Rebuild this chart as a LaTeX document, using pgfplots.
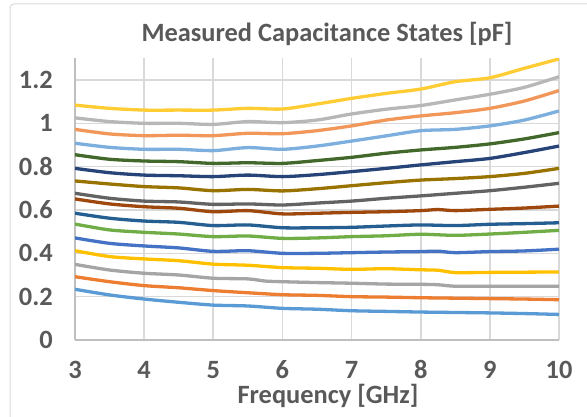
\documentclass[border=0pt]{standalone}
\usepackage{fontspec}
\setmainfont{Carlito}
\usepackage{pgfplots}
\pgfplotsset{compat=1.18}

\definecolor{txt}{HTML}{595959}
\definecolor{gridc}{HTML}{D9D9D9}
\definecolor{axc}{HTML}{BFBFBF}
\definecolor{c1}{HTML}{5B9BD5}
\definecolor{c2}{HTML}{ED7D31}
\definecolor{c3}{HTML}{A5A5A5}
\definecolor{c4}{HTML}{FFC000}
\definecolor{c5}{HTML}{4472C4}
\definecolor{c6}{HTML}{70AD47}
\definecolor{c7}{HTML}{255E91}
\definecolor{c8}{HTML}{9E480E}
\definecolor{c9}{HTML}{636363}
\definecolor{c10}{HTML}{997300}
\definecolor{c11}{HTML}{264478}
\definecolor{c12}{HTML}{43682B}
\definecolor{c13}{HTML}{7CAFDD}
\definecolor{c14}{HTML}{F1975A}
\definecolor{c15}{HTML}{B7B7B7}
\definecolor{c16}{HTML}{FFCD33}

\newcommand{\lbl}{\fontsize{26.5}{26.5}\selectfont\bfseries\color{txt}}

\begin{document}
\begin{tikzpicture}
\useasboundingbox (0,0) rectangle (587bp,417bp);
\begin{scope}
  \clip (0,0) rectangle (587bp,417bp);
  \draw[gridc, line width=1bp, rounded corners=4bp] (10bp,-30bp) rectangle (640bp,413bp);
\end{scope}

\begin{axis}[
    at={(75bp,77bp)}, anchor=south west,
    scale only axis,
    width=484bp, height=281.7bp,
    xmin=3, xmax=10, ymin=0, ymax=1.3,
    xtick={3,4,5,6,7,8,9,10},
    xticklabels={3,4,5,6,7,8,9,10},
    ytick={0,0.2,0.4,0.6,0.8,1,1.2},
    yticklabels={0,0.2,0.4,0.6,0.8,1,1.2},
    axis x line*=bottom, axis y line*=left,
    axis line style={axc, line width=1.8bp, -},
    major tick length=0pt,
    tick style={draw=none},
    grid=major,
    major grid style={gridc, line width=1.6bp},
    tick label style={font=\lbl, inner sep=0pt},
    xticklabel style={anchor=base, yshift=-38bp},
    yticklabel style={anchor=east, xshift=-22bp},
    every axis plot/.append style={line width=3.3bp, smooth, tension=0.45, mark=none},
]
\addplot[c1] coordinates {(3,0.234)(3.5,0.208)(4,0.189)(4.5,0.174)(5,0.161)(5.5,0.157)(6,0.146)(6.5,0.142)(7,0.135)(7.5,0.132)(8,0.129)(8.5,0.127)(9,0.125)(9.5,0.122)(10,0.118)};
\addplot[c2] coordinates {(3,0.292)(3.5,0.269)(4,0.251)(4.5,0.241)(5,0.228)(5.5,0.218)(6,0.209)(6.5,0.206)(7,0.200)(7.5,0.198)(8,0.195)(8.5,0.193)(9,0.191)(9.5,0.189)(10,0.186)};
\addplot[c3] coordinates {(3,0.349)(3.5,0.323)(4,0.308)(4.5,0.300)(5,0.285)(5.5,0.282)(5.75,0.272)(6,0.269)(6.5,0.265)(7,0.262)(7.5,0.258)(8,0.257)(8.25,0.255)(8.5,0.248)(9,0.248)(9.5,0.248)(10,0.248)};
\addplot[c4] coordinates {(3,0.412)(3.5,0.385)(4,0.374)(4.5,0.366)(5,0.350)(5.5,0.345)(6,0.334)(6.5,0.331)(7,0.326)(7.5,0.329)(8,0.324)(8.25,0.322)(8.5,0.311)(9,0.312)(9.5,0.313)(10,0.314)};
\addplot[c5] coordinates {(3,0.471)(3.5,0.446)(4,0.434)(4.5,0.425)(5,0.409)(5.5,0.412)(6,0.400)(6.5,0.400)(7,0.403)(7.5,0.406)(8,0.408)(8.25,0.410)(8.5,0.403)(9,0.408)(9.5,0.411)(10,0.419)};
\addplot[c6] coordinates {(3,0.535)(3.5,0.508)(4,0.497)(4.5,0.489)(5,0.477)(5.5,0.480)(6,0.469)(6.5,0.471)(7,0.477)(7.5,0.481)(8,0.488)(8.5,0.483)(9,0.489)(9.5,0.497)(10,0.506)};
\addplot[c7] coordinates {(3,0.585)(3.5,0.562)(4,0.549)(4.5,0.543)(5,0.528)(5.5,0.531)(6,0.518)(6.5,0.518)(7,0.520)(7.5,0.526)(8,0.531)(8.5,0.528)(9,0.534)(9.5,0.537)(10,0.541)};
\addplot[c8] coordinates {(3,0.651)(3.5,0.628)(4,0.615)(4.5,0.608)(5,0.592)(5.5,0.597)(6,0.582)(6.5,0.585)(7,0.589)(7.5,0.592)(8,0.597)(8.25,0.602)(8.5,0.597)(9,0.603)(9.5,0.609)(10,0.618)};
\addplot[c9] coordinates {(3,0.677)(3.5,0.654)(4,0.641)(4.5,0.637)(5,0.626)(5.5,0.628)(6,0.623)(6.5,0.632)(7,0.641)(7.5,0.654)(8,0.665)(8.5,0.677)(9,0.689)(9.5,0.705)(10,0.723)};
\addplot[c10] coordinates {(3,0.734)(3.5,0.720)(4,0.708)(4.5,0.702)(5,0.689)(5.5,0.695)(6,0.688)(6.5,0.698)(7,0.712)(7.5,0.726)(8,0.738)(8.5,0.745)(9,0.754)(9.5,0.769)(10,0.792)};
\addplot[c11] coordinates {(3,0.792)(3.5,0.772)(4,0.761)(4.5,0.758)(5,0.754)(5.5,0.761)(6,0.754)(6.5,0.763)(7,0.777)(7.5,0.792)(8,0.808)(8.5,0.823)(9,0.838)(9.5,0.865)(10,0.895)};
\addplot[c12] coordinates {(3,0.855)(3.5,0.834)(4,0.826)(4.5,0.823)(5,0.815)(5.5,0.818)(6,0.815)(6.5,0.828)(7,0.843)(7.5,0.862)(8,0.877)(8.5,0.889)(9,0.905)(9.5,0.928)(10,0.957)};
\addplot[c13] coordinates {(3,0.908)(3.5,0.889)(4,0.880)(4.5,0.880)(5,0.874)(5.5,0.888)(6,0.880)(6.5,0.895)(7,0.918)(7.5,0.942)(8,0.966)(8.5,0.972)(9,0.988)(9.5,1.015)(10,1.057)};
\addplot[c14] coordinates {(3,0.972)(3.5,0.951)(4,0.943)(4.5,0.945)(5,0.943)(5.5,0.954)(6,0.952)(6.5,0.966)(7,0.988)(7.5,1.015)(8,1.034)(8.5,1.049)(9,1.069)(9.5,1.103)(10,1.151)};
\addplot[c15] coordinates {(3,1.025)(3.5,1.008)(4,1.000)(4.5,1.000)(5,0.995)(5.5,1.008)(6,1.003)(6.5,1.015)(7,1.043)(7.5,1.065)(8,1.082)(8.5,1.108)(9,1.134)(9.5,1.166)(10,1.215)};
\addplot[c16] coordinates {(3,1.084)(3.5,1.069)(4,1.061)(4.5,1.061)(5,1.061)(5.5,1.069)(6,1.066)(6.5,1.089)(7,1.115)(7.5,1.138)(8,1.158)(8.5,1.192)(9,1.210)(9.5,1.254)(10,1.297)};
\end{axis}

\node[anchor=base, inner sep=0pt] at (327bp,375.3bp) {\lbl Measured Capacitance States [pF]};
\node[anchor=base, inner sep=0pt] at (328bp,14bp) {\lbl Frequency [GHz]};
\end{tikzpicture}
\end{document}
